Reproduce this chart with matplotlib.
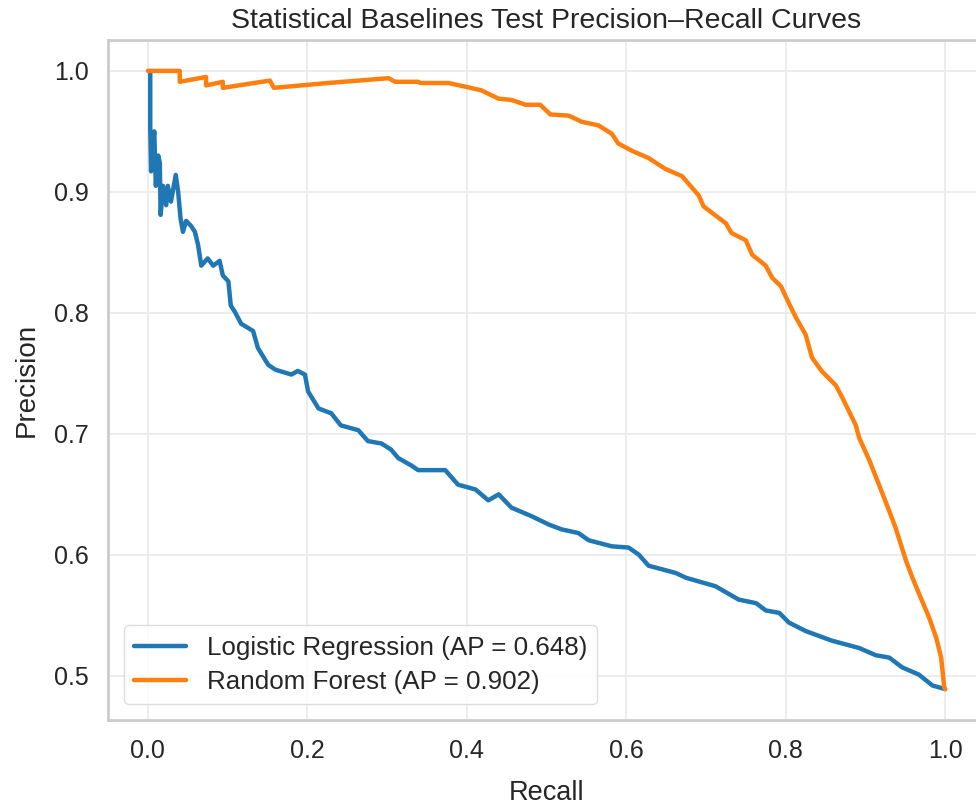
import matplotlib
matplotlib.use("Agg")
import matplotlib.pyplot as plt
import seaborn as sns

sns.set_theme(style="whitegrid")
plt.rcParams['font.family'] = ['Liberation Sans', 'DejaVu Sans']

# Logistic Regression PR curve (recall, precision)
lr_recall = [0.003, 0.003, 0.004, 0.008, 0.010, 0.013, 0.015, 0.016, 0.019, 0.023,
             0.025, 0.029, 0.035, 0.038, 0.041, 0.044, 0.048, 0.054, 0.059, 0.063,
             0.067, 0.075, 0.082, 0.090, 0.094, 0.101, 0.104, 0.109, 0.117, 0.132,
             0.138, 0.151, 0.160, 0.180, 0.188, 0.197, 0.201, 0.214, 0.230, 0.242,
             0.264, 0.276, 0.293, 0.305, 0.314, 0.330, 0.339, 0.373, 0.389, 0.411,
             0.427, 0.440, 0.456, 0.481, 0.503, 0.519, 0.540, 0.553, 0.582, 0.603,
             0.616, 0.628, 0.662, 0.675, 0.712, 0.741, 0.763, 0.775, 0.792, 0.804,
             0.825, 0.858, 0.892, 0.913, 0.930, 0.946, 0.967, 0.984, 1.000]
lr_precision = [1.000, 0.953, 0.917, 0.950, 0.905, 0.930, 0.924, 0.881, 0.905, 0.889,
                0.905, 0.892, 0.914, 0.900, 0.878, 0.867, 0.876, 0.872, 0.867, 0.856,
                0.839, 0.845, 0.839, 0.843, 0.831, 0.826, 0.806, 0.801, 0.791, 0.785,
                0.771, 0.757, 0.753, 0.749, 0.752, 0.749, 0.735, 0.721, 0.717, 0.707,
                0.703, 0.694, 0.692, 0.687, 0.680, 0.674, 0.670, 0.670, 0.658, 0.654,
                0.645, 0.650, 0.639, 0.632, 0.625, 0.621, 0.618, 0.612, 0.607, 0.606,
                0.600, 0.591, 0.585, 0.581, 0.574, 0.563, 0.560, 0.554, 0.552, 0.544,
                0.537, 0.529, 0.523, 0.517, 0.515, 0.507, 0.501, 0.492, 0.489]

# Random Forest PR curve (recall, precision)
rf_recall = [0.000, 0.040, 0.040, 0.073, 0.073, 0.094, 0.094, 0.153, 0.158, 0.226,
             0.302, 0.310, 0.339, 0.342, 0.377, 0.398, 0.418, 0.440, 0.456, 0.474,
             0.492, 0.505, 0.528, 0.544, 0.565, 0.582, 0.590, 0.607, 0.628, 0.649,
             0.670, 0.691, 0.697, 0.725, 0.732, 0.750, 0.758, 0.775, 0.783, 0.794,
             0.804, 0.813, 0.825, 0.833, 0.845, 0.863, 0.871, 0.888, 0.892, 0.905,
             0.917, 0.930, 0.938, 0.951, 0.959, 0.971, 0.980, 0.989, 0.995, 0.999,
             1.000]
rf_precision = [1.000, 1.000, 0.991, 0.995, 0.988, 0.991, 0.986, 0.992, 0.986, 0.990,
                0.994, 0.991, 0.991, 0.990, 0.990, 0.987, 0.984, 0.977, 0.976, 0.972,
                0.972, 0.964, 0.963, 0.958, 0.955, 0.948, 0.940, 0.934, 0.928, 0.919,
                0.913, 0.897, 0.888, 0.874, 0.866, 0.860, 0.848, 0.839, 0.829, 0.822,
                0.808, 0.796, 0.782, 0.763, 0.752, 0.740, 0.730, 0.707, 0.697, 0.678,
                0.658, 0.636, 0.622, 0.595, 0.581, 0.562, 0.548, 0.531, 0.515, 0.490,
                0.489]

labels = ["Logistic Regression (AP = 0.648)", "Random Forest (AP = 0.902)"]
colors = ["#1f77b4", "#ff7f0e"]

fig = plt.figure(figsize=(9.76, 8.05), dpi=100)
ax = fig.add_axes([108/976, 85/805, 877/976, 680/805])

ax.plot(lr_recall, lr_precision, color=colors[0], lw=3.2, label=labels[0])
ax.plot(rf_recall, rf_precision, color=colors[1], lw=3.2, label=labels[1])

ax.set_title("Statistical Baselines Test Precision\u2013Recall Curves", fontsize=20.5, color="#262626", pad=9)
ax.set_xlabel("Recall", fontsize=19.5, color="#262626", labelpad=12)
ax.set_ylabel("Precision", fontsize=20, color="#262626", labelpad=10)
ax.set_xticks([0.0, 0.2, 0.4, 0.6, 0.8, 1.0])
ax.set_yticks([0.5, 0.6, 0.7, 0.8, 0.9, 1.0])
ax.tick_params(labelsize=18, colors="#262626", pad=8)
ax.grid(True, color="#ebebeb", lw=1.3)
for s in ax.spines.values():
    s.set_color("#cccccc")
    s.set_linewidth(2)

leg = ax.legend(loc="lower left", fontsize=18.7, frameon=True, handlelength=2.0,
                borderaxespad=0.6, labelspacing=0.4)
leg.get_frame().set_edgecolor("#d5d5d5")

fig.savefig("out.png", dpi=100)
